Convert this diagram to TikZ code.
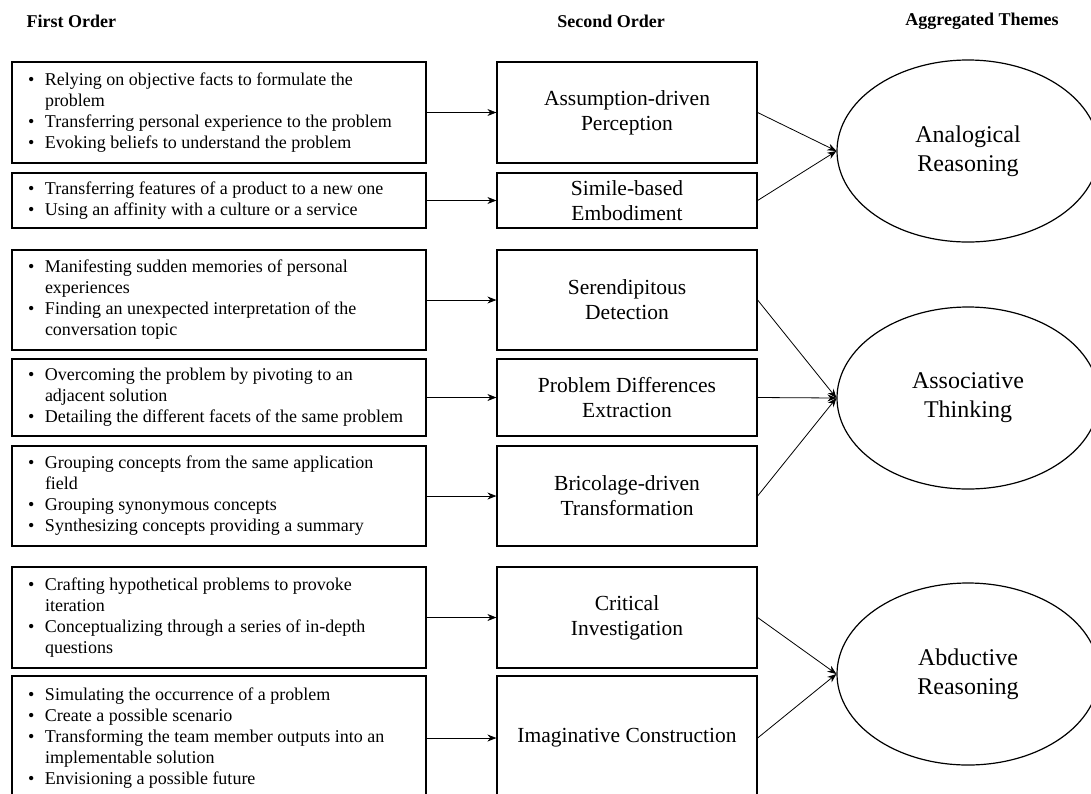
\documentclass[tikz,border=0pt]{standalone}
\usepackage{fontspec}
\setmainfont{Liberation Serif}
\usepackage{tikz}
\usetikzlibrary{arrows.meta,shapes.geometric}

% bullet list for the first-order boxes
\newcommand{\folist}[1]{\begin{tabular}{@{}p{17pt}@{}p{365pt}@{}}#1\end{tabular}}

\begin{document}
\begin{tikzpicture}[
  x=1pt, y=-1pt,
  every node/.style={align=center},
  head/.style={font=\fontsize{18}{21}\selectfont\bfseries},
  fobox/.style={draw, line width=1.2pt, minimum width=414pt, inner xsep=16pt,
                inner ysep=0pt, font=\fontsize{18}{21}\selectfont},
  sobox/.style={draw, line width=1.2pt, minimum width=260pt, inner sep=0pt,
                font=\fontsize{21.5}{25}\selectfont},
  theme/.style={draw, ellipse, line width=1.2pt, minimum width=262pt,
                minimum height=182pt, inner sep=0pt, font=\fontsize{24}{29}\selectfont},
  arr/.style={-{Stealth[length=9pt,width=7pt]}, line width=0.8pt}
]
\useasboundingbox[fill=white] (0,0) rectangle (1091,793);

\node[head, anchor=west] (h1) at (23,21) {First Order};
\node[head] (h2) at (611,21) {Second Order};
\node[head] (h3) at (982,21) {Aggregated Themes};

% first order
\node[fobox, minimum height=101pt] (f1) at (219,112.5) {\folist{
  \textbullet & Relying on objective facts to formulate the\\
  & problem\\
  \textbullet & Transferring personal experience to the problem\\
  \textbullet & Evoking beliefs to understand the problem}};
\node[fobox, minimum height=55pt] (f2) at (219,200.5) {\folist{
  \textbullet & Transferring features of a product to a new one\\
  \textbullet & Using an affinity with a culture or a service}};
\node[fobox, minimum height=100pt] (f3) at (219,300) {\folist{
  \textbullet & Manifesting sudden memories of personal\\
  & experiences\\
  \textbullet & Finding an unexpected interpretation of the\\
  & conversation topic}};
\node[fobox, minimum height=77pt] (f4) at (219,397.5) {\folist{
  \textbullet & Overcoming the problem by pivoting to an\\
  & adjacent solution\\
  \textbullet & Detailing the different facets of the same problem}};
\node[fobox, minimum height=100pt] (f5) at (219,496) {\folist{
  \textbullet & Grouping concepts from the same application\\
  & field\\
  \textbullet & Grouping synonymous concepts\\
  \textbullet & Synthesizing concepts providing a summary}};
\node[fobox, minimum height=101pt] (f6) at (219,617.5) {\folist{
  \textbullet & Crafting hypothetical problems to provoke\\
  & iteration\\
  \textbullet & Conceptualizing through a series of in-depth\\
  & questions}};
\node[fobox, minimum height=124pt] (f7) at (219,738) {\folist{
  \textbullet & Simulating the occurrence of a problem\\
  \textbullet & Create a possible scenario\\
  \textbullet & Transforming the team member outputs into an\\
  & implementable solution\\
  \textbullet & Envisioning a possible future}};

% second order
\node[sobox, minimum height=101pt] (s1) at (627,112.5) {Assumption-driven\\Perception};
\node[sobox, minimum height=55pt] (s2) at (627,200.5) {Simile-based\\Embodiment};
\node[sobox, minimum height=100pt] (s3) at (627,300) {Serendipitous\\Detection};
\node[sobox, minimum height=77pt] (s4) at (627,397.5) {Problem Differences\\Extraction};
\node[sobox, minimum height=100pt] (s5) at (627,496) {Bricolage-driven\\Transformation};
\node[sobox, minimum height=101pt] (s6) at (627,617.5) {Critical\\Investigation};
\node[sobox, minimum height=124pt] (s7) at (627,738) {Imaginative Construction};

% aggregated themes
\node[theme] (t1) at (968,151) {Analogical\\Reasoning};
\node[theme] (t2) at (968,398) {Associative\\Thinking};
\node[theme] (t3) at (968,674) {Abductive\\Reasoning};

\foreach \i in {1,...,7}
  \draw[arr] (f\i.east) -- (s\i.west);

\draw[arr] (s1.east) -- (t1.west);
\draw[arr] (s2.east) -- (t1.west);
\draw[arr] (s3.east) -- (t2.west);
\draw[arr] (s4.east) -- (t2.west);
\draw[arr] (s5.east) -- (t2.west);
\draw[arr] (s6.east) -- (t3.west);
\draw[arr] (s7.east) -- (t3.west);
\end{tikzpicture}
\end{document}
